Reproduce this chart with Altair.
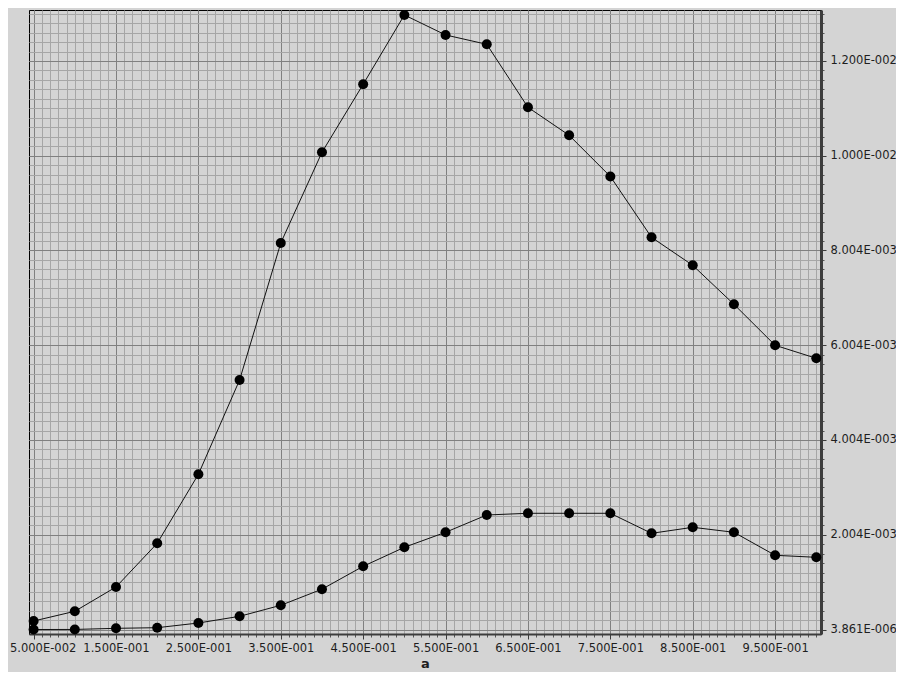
import altair as alt
import pandas as pd

# ---- data ----
a_values = [0.05, 0.10, 0.15, 0.20, 0.25, 0.30, 0.35, 0.40, 0.45, 0.50,
            0.55, 0.60, 0.65, 0.70, 0.75, 0.80, 0.85, 0.90, 0.95, 1.00]
upper_values = [1.83e-4, 3.88e-4, 9.01e-4, 1.823e-3, 3.280e-3, 5.270e-3, 8.162e-3,
                1.0077e-2, 1.1512e-2, 1.2975e-2, 1.2553e-2, 1.2356e-2, 1.1026e-2,
                1.0435e-2, 9.566e-3, 8.282e-3, 7.691e-3, 6.868e-3, 6.003e-3, 5.728e-3]
lower_values = [3.861e-6, 5.0e-6, 2.9e-5, 4.2e-5, 1.41e-4, 2.82e-4, 5.15e-4, 8.55e-4,
                1.338e-3, 1.739e-3, 2.056e-3, 2.421e-3, 2.457e-3, 2.457e-3, 2.457e-3,
                2.034e-3, 2.161e-3, 2.056e-3, 1.570e-3, 1.528e-3]

x_tick_values = [0.05, 0.15, 0.25, 0.35, 0.45, 0.55, 0.65, 0.75, 0.85, 0.95]
x_tick_labels = ["5.000E-002", "1.500E-001", "2.500E-001", "3.500E-001", "4.500E-001",
                 "5.500E-001", "6.500E-001", "7.500E-001", "8.500E-001", "9.500E-001"]
y_tick_values = [3.861e-6 + 2e-3 * k for k in range(7)]
y_tick_labels = ["3.861E-006", "2.004E-003", "4.004E-003", "6.004E-003",
                 "8.004E-003", "1.000E-002", "1.200E-002"]
x_minor_values = [round(0.05 + 0.01 * i, 4) for i in range(96)]
y_minor_values = [3.861e-6 + 2e-4 * i for i in range(66)]

x_domain = [0.0444, 1.0057]
y_domain = [-9.1e-5, 0.01308]

rows = []
for a, u, l in zip(a_values, upper_values, lower_values):
    rows.append({"a": a, "value": u, "series": "upper"})
    rows.append({"a": a, "value": l, "series": "lower"})
df = pd.DataFrame(rows)


def label_expr(values, labels):
    labs = ",".join(f"'{s}'" for s in labels)
    vals = ",".join(repr(float(v)) for v in values)
    return f"[{labs}][indexof([{vals}], datum.value)]"


FONT = "DejaVu Sans"
BG = "#d4d4d4"

xs = alt.Scale(domain=x_domain, nice=False, zero=False)
ys = alt.Scale(domain=y_domain, nice=False, zero=False)

base = alt.Chart(df)

minor = base.mark_line(opacity=0).encode(
    x=alt.X("a:Q", scale=xs, axis=alt.Axis(
        values=x_minor_values, orient="bottom", labels=False, domain=False,
        ticks=True, tickSize=3, tickColor="#555555", grid=True,
        gridColor="#a6a6a6", gridWidth=1, title=None)),
    y=alt.Y("value:Q", scale=ys, axis=alt.Axis(
        values=y_minor_values, orient="right", labels=False, domain=False,
        ticks=True, tickSize=3, tickColor="#555555", grid=True,
        gridColor="#a6a6a6", gridWidth=1, title=None)),
    detail="series:N",
)

lines = base.mark_line(color="#111111", strokeWidth=1).encode(
    x=alt.X("a:Q", scale=xs, axis=alt.Axis(
        values=x_tick_values, orient="bottom",
        labelExpr=label_expr(x_tick_values, x_tick_labels),
        labelOffset={"condition": {"test": "datum.value < 0.06", "value": 9}, "value": 0},
        grid=True, gridColor="#808080", gridWidth=1,
        domain=True, domainColor="#3c3c3c", domainWidth=2,
        ticks=True, tickSize=5, tickColor="#3c3c3c",
        labelFont=FONT, labelFontSize=11.5, labelColor="#1e1e1e", labelPadding=3,
        labelFlush=False, labelOverlap=False,
        title="a", titleFont=FONT, titleFontSize=13, titleFontWeight="bold",
        titleColor="#1e1e1e", titlePadding=4)),
    y=alt.Y("value:Q", scale=ys, axis=alt.Axis(
        values=y_tick_values, orient="right",
        labelExpr=label_expr(y_tick_values, y_tick_labels),
        grid=True, gridColor="#808080", gridWidth=1,
        domain=True, domainColor="#3c3c3c", domainWidth=3,
        ticks=True, tickSize=5, tickColor="#3c3c3c",
        labelFont=FONT, labelFontSize=11.5, labelColor="#1e1e1e", labelPadding=4,
        labelFlush=False, labelOverlap=False, title=None)),
    detail="series:N",
)

points = base.mark_circle(color="#000000", size=100, opacity=1).encode(
    x=alt.X("a:Q", scale=xs, axis=None),
    y=alt.Y("value:Q", scale=ys, axis=None),
)

chart = alt.layer(minor, lines, points).resolve_axis(
    x="independent", y="independent"
).properties(
    width=792, height=624,
    padding={"left": 21, "top": 2, "right": 75, "bottom": 38},
    autosize=alt.AutoSizeParams(type="none"),
    background=BG,
).configure_view(
    fill=BG, stroke="#000000", strokeWidth=1
)

chart.save("out.html", embed_options={"renderer": "svg", "actions": False})
